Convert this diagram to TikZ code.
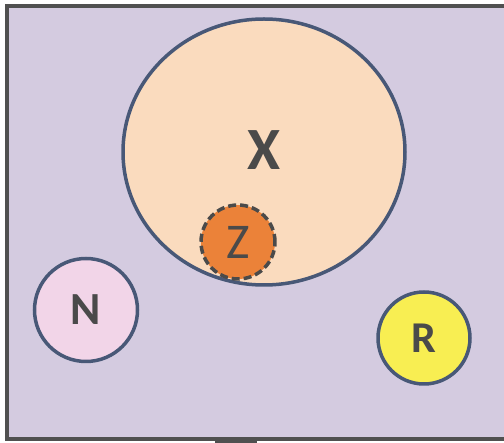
\documentclass[tikz,border=0pt]{standalone}
\usepackage{fontspec}
\setmainfont{Carlito}
\usepackage{tikz}
\usetikzlibrary{shapes.geometric, positioning}
\definecolor{universelilac}{HTML}{D4CBE0}
\definecolor{framegraphite}{HTML}{505050}
\definecolor{setslate}{HTML}{485877}
\definecolor{peachpale}{HTML}{FADBBE}
\definecolor{tangerinedeep}{HTML}{EB8239}
\definecolor{blushpink}{HTML}{F2D5E8}
\definecolor{lemonbright}{HTML}{F8EE52}
\definecolor{inkgray}{HTML}{4A4A4A}

\begin{document}
\begin{tikzpicture}[x=1pt, y=-1pt,
    setring/.style={circle, draw=setslate, line width=3.5pt, text=inkgray, inner sep=0pt},
    setlabel/.style={font=\bfseries\fontsize{46}{46}\selectfont}]
    % Canvas and universe frame
    \useasboundingbox (0,0) rectangle (504,443);
    \begin{scope}
      \clip (0,0) rectangle (504,443);
      \fill[universelilac] (7,6) rectangle (520,439);
      \draw[framegraphite, line width=4pt] (7,6) rectangle (520,439);
      \fill[framegraphite] (215,438) rectangle (257,443);
    \end{scope}
    % Sets
    \node[ellipse, draw=setslate, fill=peachpale, line width=3.5pt, minimum width=282pt, minimum height=266pt, inner sep=0pt] (setX) at (264,152) {};
    \node[text=inkgray, font=\bfseries\fontsize{60}{60}\selectfont] (labelX) at (264,150) {X};
    \node[circle, draw=inkgray, fill=tangerinedeep, line width=3.5pt, dash pattern=on 8pt off 4pt, minimum size=74pt, inner sep=0pt, text=inkgray, font=\fontsize{50}{50}\selectfont] (setZ) at (238,242) {Z};
    \node[setring, fill=blushpink, minimum size=103pt, setlabel] (setN) at (86,310) {N};
    \node[setring, fill=lemonbright, minimum size=92pt, setlabel, font=\bfseries\fontsize{44}{44}\selectfont] (setR) at (424,338) {R};
  \end{tikzpicture}
\end{document}
